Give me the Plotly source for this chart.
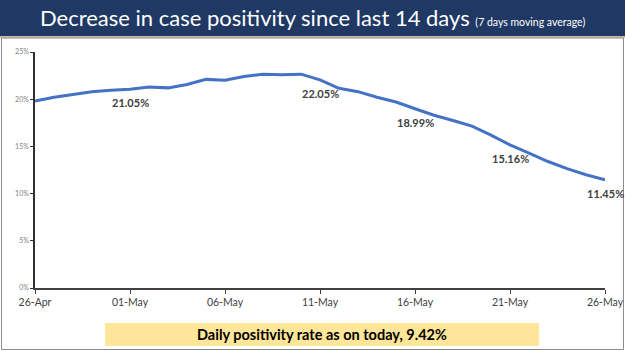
import plotly.graph_objects as go
import pandas as pd

dates = pd.date_range("2020-04-26", "2020-05-26", freq="D").strftime("%Y-%m-%d").tolist()
# 7-day moving average positivity (%), 26-Apr .. 26-May
positivity = [19.8, 20.2, 20.5, 20.8, 20.95, 21.05, 21.3, 21.2, 21.55, 22.1,
              22.0, 22.4, 22.65, 22.6, 22.65, 22.05, 21.15, 20.8, 20.2, 19.7,
              18.99, 18.3, 17.75, 17.15, 16.2, 15.16, 14.3, 13.4, 12.65, 12.0, 11.45]
label_dates = ["2020-05-01", "2020-05-11", "2020-05-16", "2020-05-21", "2020-05-26"]
label_values = [21.05, 22.05, 18.99, 15.16, 11.45]
tick_dates = ["2020-04-26", "2020-05-01", "2020-05-06", "2020-05-11", "2020-05-16", "2020-05-21", "2020-05-26"]
y_ticks = [0, 5, 10, 15, 20, 25]
y_tick_text = ["0%", "5%", "10%", "15%", "20%", "25%"]
title_main = "Decrease in case positivity since last 14 days"
title_sub = "(7 days moving average)"
footer = "Daily positivity rate as on today, 9.42%"

W, H = 625, 351
L, R, T, B = 35, 605, 52, 288


def px(x):
    return (x - L) / (R - L)


def py(y):
    return (B - y) / (B - T)


fig = go.Figure()
fig.add_trace(go.Scatter(x=dates, y=positivity, mode="lines",
                         line=dict(color="#4472C4", width=3), hoverinfo="skip"))

annotations = []
for d, v in zip(label_dates, label_values):
    annotations.append(dict(x=d, y=v, xref="x", yref="y", text=f"{v:.2f}%",
                            showarrow=False, yanchor="top", yshift=-5,
                            font=dict(family="Lato", size=11, color="#404040", weight="bold")))

annotations.append(dict(x=px(312), y=py(18), xref="paper", yref="paper",
                        text=f"{title_main} <span style='font-size:10.5px'>{title_sub}</span>",
                        showarrow=False, xanchor="center", yanchor="middle",
                        font=dict(family="Lato", size=22, color="white")))
annotations.append(dict(x=px(322), y=py(334.5), xref="paper", yref="paper",
                        text=footer, showarrow=False, xanchor="center", yanchor="middle",
                        font=dict(family="Lato", size=14.5, color="black", weight="bold")))

shapes = [
    dict(type="rect", xref="paper", yref="paper", x0=px(0), x1=px(W), y0=py(0), y1=py(36),
         fillcolor="#203864", line=dict(width=0), layer="below"),
    dict(type="line", xref="paper", yref="paper", x0=px(0), x1=px(W), y0=py(37), y1=py(37),
         line=dict(color="#C8A27C", width=1.5)),
    dict(type="rect", xref="paper", yref="paper", x0=px(1.5), x1=px(623.5), y0=py(38), y1=py(349.5),
         fillcolor="rgba(0,0,0,0)", line=dict(color="#8C8C8C", width=1)),
    dict(type="rect", xref="paper", yref="paper", x0=px(105), x1=px(539), y0=py(323), y1=py(346),
         fillcolor="#FFE699", line=dict(width=0), layer="below"),
]

fig.update_layout(
    width=W, height=H,
    margin=dict(l=L, r=W - R, t=T, b=H - B, autoexpand=False),
    paper_bgcolor="white", plot_bgcolor="white",
    showlegend=False,
    annotations=annotations,
    shapes=shapes,
    xaxis=dict(type="date", range=[dates[0], dates[-1]], tickvals=tick_dates,
               tickformat="%d-%b", showgrid=False, zeroline=False, automargin=False,
               showline=True, linecolor="#404040", linewidth=1.5,
               ticks="outside", ticklen=4, tickcolor="#404040",
               tickfont=dict(family="Lato", size=10.5, color="#404040")),
    yaxis=dict(range=[0, 25], tickvals=y_ticks, ticktext=y_tick_text, showgrid=False,
               zeroline=False, showline=True, linecolor="#303030", linewidth=1.5,
               automargin=False, ticks="outside", ticklen=3, tickcolor="#303030",
               tickfont=dict(family="Lato", size=7, color="#7F7F7F")),
)

fig.write_html("out.html")
